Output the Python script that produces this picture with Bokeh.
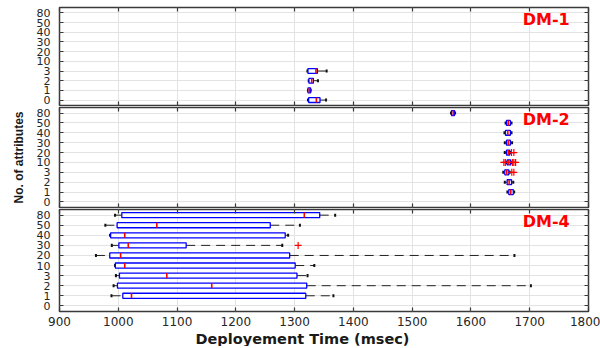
import numpy as np
from bokeh.plotting import figure
from bokeh.models import (FactorRange, Range1d, LinearAxis, CategoricalAxis, Label,
                          Title, ColumnDataSource, FixedTicker)
from bokeh.layouts import column
from bokeh.embed import file_html
from bokeh.resources import INLINE

# ---------------- data ----------------
attributes = ["0", "1", "2", "3", "10", "20", "30", "40", "50", "80"]
x_ticks = [900, 1000, 1100, 1200, 1300, 1400, 1500, 1600, 1700, 1800]

# DM-1
dm1_rows = ["0", "1", "2", "3"]
dm1_lo = [1322.7, 1322.7, 1324.0, 1321.8]
dm1_q1 = [1323.9, 1322.7, 1324.4, 1322.7]
dm1_med = [1337.0, 1325.0, 1329.0, 1336.3]
dm1_q3 = [1343.2, 1327.3, 1331.9, 1338.7]
dm1_hi = [1353.5, 1327.3, 1339.7, 1354.5]
dm1_out_rows = []
dm1_out_vals = []

# DM-2
dm2_rows = ["1", "2", "3", "10", "20", "30", "40", "50", "80"]
dm2_lo = [1662.0, 1657.6, 1655.0, 1660.0, 1657.5, 1657.6, 1657.0, 1659.0, 1566.0]
dm2_q1 = [1664.4, 1661.6, 1657.6, 1661.5, 1660.5, 1660.5, 1658.8, 1660.5, 1567.0]
dm2_med = [1667.8, 1665.0, 1661.0, 1664.5, 1663.4, 1663.5, 1662.7, 1663.4, 1570.0]
dm2_q3 = [1672.0, 1669.0, 1664.4, 1667.5, 1666.0, 1667.0, 1667.0, 1667.0, 1572.0]
dm2_hi = [1673.5, 1672.0, 1666.0, 1668.5, 1668.0, 1670.0, 1669.0, 1669.0, 1573.0]
dm2_out_rows = ["3", "3", "10", "10", "10", "10", "10", "20", "20"]
dm2_out_vals = [1669.5, 1673.0, 1656.0, 1658.5, 1670.5, 1673.0, 1676.0, 1669.0, 1673.0]

# DM-4
dm4_rows = ["1", "2", "3", "10", "20", "30", "40", "50", "80"]
dm4_lo = [988.4, 992.0, 996.0, 994.5, 962.0, 989.0, 986.0, 978.0, 994.5]
dm4_q1 = [1007.7, 998.6, 1002.0, 995.0, 985.5, 1001.0, 987.0, 998.0, 1006.0]
dm4_med = [1022.5, 1159.0, 1082.6, 1011.0, 1004.0, 1017.0, 1011.0, 1065.6, 1316.5]
dm4_q3 = [1319.0, 1320.6, 1304.0, 1301.0, 1291.6, 1115.5, 1284.0, 1258.6, 1342.7]
dm4_hi = [1366.0, 1702.0, 1322.0, 1333.5, 1674.0, 1279.0, 1289.0, 1309.0, 1369.0]
dm4_out_rows = ["30"]
dm4_out_vals = [1306.0]

# ---------------- styling helpers ----------------
TICK_FONT = "DejaVu Sans"
FRAME_COLOR = "#3a3a3a"


def style_axis(ax, labels, size="11px"):
    ax.axis_line_color = None
    ax.major_tick_in = 4
    ax.major_tick_out = 0
    ax.minor_tick_line_color = None
    ax.major_tick_line_color = FRAME_COLOR
    ax.major_tick_line_width = 1.2
    if labels:
        ax.major_label_text_font = TICK_FONT
        ax.major_label_text_font_size = size
        ax.major_label_text_color = "#262626"
    else:
        ax.major_label_text_font_size = "0px"
        ax.major_label_text_color = None
        ax.major_label_standoff = 0


def make_panel(name, rows, lo, q1, med, q3, hi, out_rows, out_vals, height,
               border_top=1, border_bottom=1, bottom_labels=False, ylabel=None):
    p = figure(width=600, height=height,
               x_range=Range1d(900, 1800),
               y_range=FactorRange(factors=attributes, range_padding=0.012),
               output_backend="svg", toolbar_location=None,
               min_border_left=59, min_border_right=12,
               min_border_top=border_top, min_border_bottom=border_bottom)
    p.background_fill_color = "white"
    p.border_fill_color = "white"
    p.outline_line_color = FRAME_COLOR
    p.outline_line_width = 1.5

    p.add_layout(LinearAxis(), "above")
    p.add_layout(CategoricalAxis(), "right")
    p.xaxis.ticker = FixedTicker(ticks=x_ticks)
    p.xgrid.ticker = FixedTicker(ticks=x_ticks)

    style_axis(p.below[0], bottom_labels, size="12px")
    style_axis(p.above[0], False)
    style_axis(p.left[0], True, size="11px")
    style_axis(p.right[0], False)
    p.left[0].major_label_standoff = 9
    if bottom_labels:
        p.below[0].major_label_standoff = 5

    if ylabel:
        p.left[0].axis_label = ylabel
        p.left[0].axis_label_text_font = "Liberation Sans"
        p.left[0].axis_label_text_font_style = "bold"
        p.left[0].axis_label_text_font_size = "12px"
        p.left[0].axis_label_text_color = "#1a1a1a"
        p.left[0].axis_label_standoff = 8

    p.xgrid.grid_line_color = "#e3e3e3"
    p.ygrid.grid_line_color = "#e3e3e3"
    p.xgrid.grid_line_width = 1
    p.ygrid.grid_line_width = 1

    src = ColumnDataSource(dict(y=rows, lo=lo, q1=q1, med=med, q3=q3, hi=hi))
    p.segment(x0="lo", y0="y", x1="q1", y1="y", source=src,
              line_color="#222222", line_width=1, line_dash="9 6")
    p.segment(x0="q3", y0="y", x1="hi", y1="y", source=src,
              line_color="#222222", line_width=1, line_dash="9 6")
    p.rect(x="lo", y="y", width=2, width_units="screen", height=0.3, source=src,
           fill_color="#111111", line_color=None)
    p.rect(x="hi", y="y", width=2, width_units="screen", height=0.3, source=src,
           fill_color="#111111", line_color=None)
    p.hbar(y="y", left="q1", right="q3", height=0.5, source=src,
           fill_color="white", line_color="#0000ff", line_width=1.3)
    p.rect(x="med", y="y", width=1.6, width_units="screen", height=0.5, source=src,
           fill_color="#ff0000", line_color=None)
    if out_vals:
        p.scatter(x=out_vals, y=out_rows, marker="cross", size=7,
                  line_color="#ff0000", line_width=1.2)

    p.add_layout(Label(x=1768, y=9.8, text=name, text_align="right",
                       text_baseline="top", text_color="#ff0000",
                       text_font="DejaVu Sans", text_font_style="bold",
                       text_font_size="16px"))
    return p


p1 = make_panel("DM-1", dm1_rows, dm1_lo, dm1_q1, dm1_med, dm1_q3, dm1_hi,
                dm1_out_rows, dm1_out_vals, height=106, border_top=7)
p2 = make_panel("DM-2", dm2_rows, dm2_lo, dm2_q1, dm2_med, dm2_q3, dm2_hi,
                dm2_out_rows, dm2_out_vals, height=102, ylabel="No. of attributes")
p3 = make_panel("DM-4", dm4_rows, dm4_lo, dm4_q1, dm4_med, dm4_q3, dm4_hi,
                dm4_out_rows, dm4_out_vals, height=138, border_bottom=0,
                bottom_labels=True)
p3.add_layout(Title(text="Deployement Time (msec)", align="left", offset=136,
                    standoff=0, text_font="DejaVu Sans", text_font_style="bold",
                    text_font_size="14.5px", text_color="#1a1a1a"), "below")

layout = column(p1, p2, p3, spacing=0)
open("out.html", "w").write(file_html(layout, INLINE))
